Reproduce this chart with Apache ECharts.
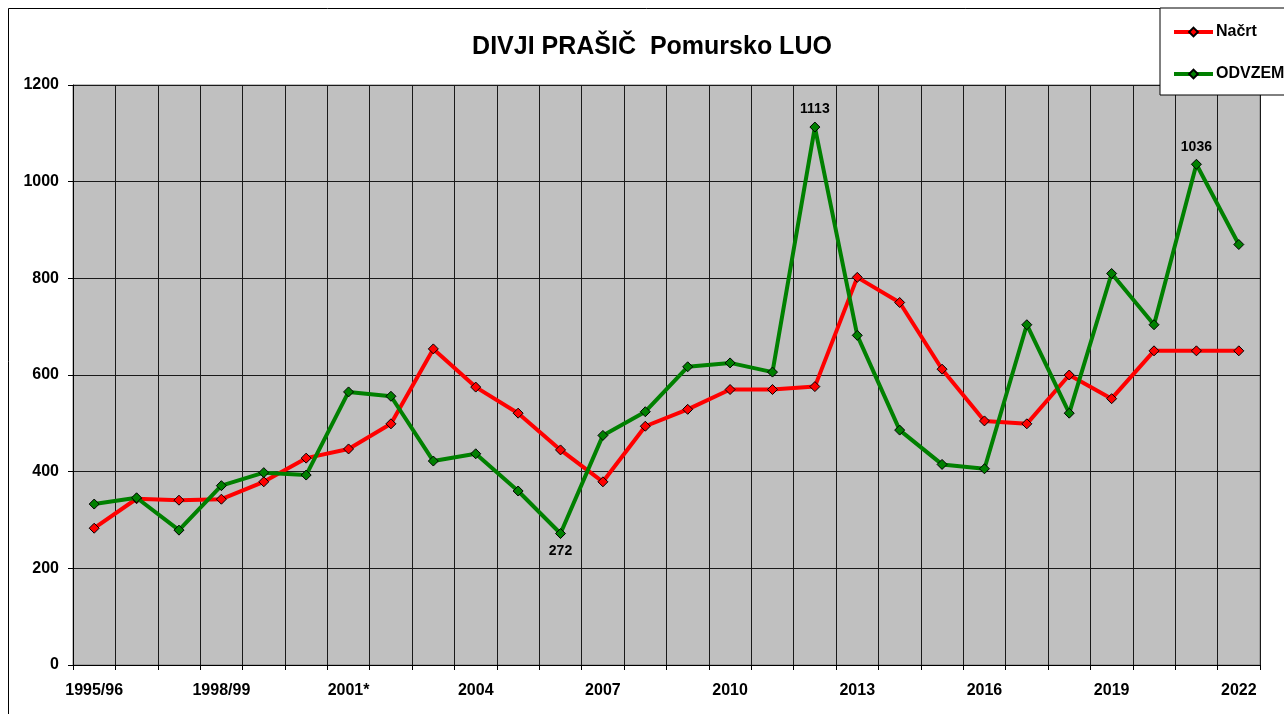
<!DOCTYPE html>
<html>
<head>
<meta charset="utf-8">
<script src="https://cdn.jsdelivr.net/npm/echarts@6/dist/echarts.min.js"></script>
<style>
  html, body { margin: 0; padding: 0; background: #fff; }
  #chart { width: 1284px; height: 714px; }
</style>
</head>
<body>
<div id="chart"></div>
<script>
// sezone (kategorije na osi x)
const seasons = [
  "1995/96", "1996/97", "1997/98", "1998/99", "1999/00", "2000/01", "2001*",
  "2002", "2003", "2004", "2005", "2006", "2007", "2008", "2009", "2010",
  "2011", "2012", "2013", "2014", "2015", "2016", "2017", "2018", "2019",
  "2020", "2021", "2022"
];
// načrt odvzema
const nacrt = [
  283, 344, 341, 343, 379, 428, 447, 499, 654, 575, 521, 445, 379, 494,
  529, 570, 570, 576, 802, 750, 612, 505, 499, 600, 551, 650, 650, 650
];
// dejanski odvzem
const odvzem = [
  333, 346, 279, 371, 398, 393, 565, 556, 422, 437, 360, 272, 475, 524,
  617, 625, 606, 1113, 682, 486, 415, 406, 704, 521, 810, 704, 1036, 870
];
// točke z izpisano vrednostjo
const labelled = { 11: "bottom", 17: "top", 26: "top" };
const yTicks = [0, 200, 400, 600, 800, 1000, 1200];

const font = "Liberation Sans, Arial, sans-serif";

const odvzemData = odvzem.map((v, i) => {
  if (labelled[i]) {
    return { value: v, label: { show: true, position: labelled[i], distance: 5 } };
  }
  return v;
});

const chart = echarts.init(document.getElementById("chart"));
chart.setOption({
  animation: false,
  backgroundColor: "#fff",
  textStyle: { fontFamily: font },
  title: {
    text: "DIVJI PRAŠIČ  Pomursko LUO",
    left: 647,
    textAlign: "center",
    top: 30,
    textStyle: { fontSize: 25, fontWeight: "bold", color: "#000", fontFamily: font }
  },
  graphic: [{
    type: "rect",
    shape: { x: 8.5, y: 8.5, width: 1400, height: 800 },
    style: { fill: "none", stroke: "#000", lineWidth: 1 },
    z: -1
  }],
  legend: {
    orient: "vertical",
    left: 1160,
    top: 8,
    padding: [16, 60, 13, 12],
    itemGap: 26,
    itemWidth: 39,
    itemHeight: 11,
    backgroundColor: "#fff",
    borderColor: "#000",
    borderWidth: 1,
    lineStyle: { width: 4 },
    textStyle: { fontSize: 16, fontWeight: "bold", color: "#000", fontFamily: font, padding: [0, 0, 0, -2] },
    data: ["Načrt", "ODVZEM"]
  },
  grid: {
    left: 73,
    right: 24,
    top: 85,
    bottom: 49,
    show: true,
    backgroundColor: "#C0C0C0",
    borderColor: "#808080",
    borderWidth: 1
  },
  xAxis: {
    type: "category",
    data: seasons,
    boundaryGap: true,
    axisLine: { lineStyle: { color: "#000", width: 1 } },
    axisTick: { show: true, interval: 0, length: 5, lineStyle: { color: "#000" } },
    axisLabel: {
      interval: 2,
      margin: 18,
      fontSize: 16,
      fontWeight: "bold",
      color: "#000",
      fontFamily: font
    },
    splitLine: { show: true, interval: 0, lineStyle: { color: "#1a1a1a", width: 1 } }
  },
  yAxis: {
    type: "value",
    min: yTicks[0],
    max: yTicks[yTicks.length - 1],
    interval: 200,
    axisLine: { show: true, lineStyle: { color: "#000", width: 1 } },
    axisTick: { show: true, length: 5, lineStyle: { color: "#000" } },
    axisLabel: {
      margin: 14,
      fontSize: 16,
      fontWeight: "bold",
      color: "#000",
      fontFamily: font,
      formatter: (v) => String(v)
    },
    splitLine: { show: true, lineStyle: { color: "#1a1a1a", width: 1 } }
  },
  series: [
    {
      name: "Načrt",
      type: "line",
      data: nacrt,
      symbol: "diamond",
      symbolSize: 10,
      lineStyle: { color: "#FF0000", width: 4 },
      itemStyle: { color: "#FF0000", borderColor: "#000", borderWidth: 1 },
      z: 3
    },
    {
      name: "ODVZEM",
      type: "line",
      data: odvzemData,
      symbol: "diamond",
      symbolSize: 10,
      lineStyle: { color: "#008000", width: 4 },
      itemStyle: { color: "#008000", borderColor: "#000", borderWidth: 1 },
      label: { fontSize: 14, fontWeight: "bold", color: "#000", fontFamily: font },
      z: 4
    }
  ]
});
</script>
</body>
</html>
